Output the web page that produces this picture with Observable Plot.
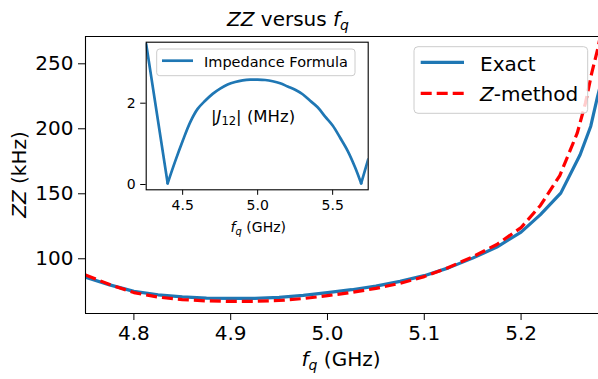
<!DOCTYPE html>
<html><head><meta charset="utf-8">
<script src="https://cdn.jsdelivr.net/npm/d3@7"></script>
<script src="https://cdn.jsdelivr.net/npm/@observablehq/plot@0.6"></script>
<style>
html,body{margin:0;padding:0;background:#fff;overflow:hidden}
#wrap{position:relative;width:598px;height:379px;font-family:"DejaVu Sans",sans-serif}
#wrap svg{position:absolute;}
text{white-space:pre}
</style></head><body><div id="wrap"></div>
<script>
// ---- data ----
const seriesNames = ["Exact", "Z-method"];
const fqExact = [4.75,4.775,4.8,4.825,4.85,4.875,4.9,4.925,4.95,4.975,5.0,5.025,5.05,5.075,5.1,5.125,5.15,5.175,5.2,5.22,5.241,5.261,5.272,5.279,5.285];
const zzExact = [85.9,79.9,74.9,72.3,70.7,69.8,69.5,69.6,70.3,71.8,74.0,76.2,79.0,82.6,87.0,93.0,100.5,109.0,120.5,134.0,150.5,180.0,202.0,224.8,242.0];
const fqZ = [4.75,4.775,4.8,4.825,4.85,4.875,4.9,4.925,4.95,4.975,5.0,5.025,5.05,5.075,5.1,5.125,5.15,5.175,5.2,5.22,5.24,5.258,5.2665,5.273,5.279,5.285];
const zzZ = [87.5,80.2,74.0,70.5,68.6,67.6,67.2,67.3,67.9,69.4,71.6,74.1,77.2,81.1,86.3,93.3,101.5,111.0,124.0,141.0,164.0,196.6,219.7,242.8,260.8,282.0];
const fqInset = [4.257,4.40,4.45,4.50,4.55,4.60,4.65,4.70,4.75,4.80,4.85,4.90,4.95,5.00,5.05,5.10,5.15,5.20,5.25,5.30,5.35,5.40,5.45,5.50,5.55,5.60,5.65,5.69,5.737];
const jInset = [3.45,0.03,0.57,1.07,1.53,1.86,2.06,2.23,2.36,2.46,2.52,2.56,2.58,2.58,2.57,2.54,2.49,2.41,2.33,2.22,2.06,1.90,1.67,1.45,1.15,0.83,0.42,0.03,0.62];
const mainXTicks = [4.8, 4.9, 5.0, 5.1, 5.2];
const mainYTicks = [100, 150, 200, 250];
const insetXTicks = [4.5, 5.0, 5.5];
const insetYTicks = [0, 2];

// ---- build ----
const blue = "#1f77b4", red = "#ff0000";
const xDom = [4.75, 5.28], yDom = [57.9, 271];
const exact = fqExact.map((f, i) => ({f, zz: zzExact[i], s: seriesNames[0]}));
const zm = fqZ.map((f, i) => ({f, zz: zzZ[i], s: seriesNames[1]}));
const ins = fqInset.map((f, i) => ({f, j: jInset[i]}));
const insLeft = ins.filter(d => d.f <= 4.40);
const insArc = ins.filter(d => d.f >= 4.40 && d.f <= 5.69);
const insRight = ins.filter(d => d.f >= 5.69);
const wrap = document.getElementById("wrap");

const main = Plot.plot({
  width: 598, height: 379,
  marginLeft: 85, marginRight: 0, marginTop: 36, marginBottom: 66,
  style: {fontFamily: "DejaVu Sans", fontSize: "20px", color: "black", background: "white", overflow: "visible"},
  x: {domain: xDom, ticks: mainXTicks, tickFormat: d3.format(".1f"), tickSize: 7, tickPadding: 5, label: null},
  y: {domain: yDom, ticks: mainYTicks, tickFormat: d3.format("d"), tickSize: 7, tickPadding: 5, label: null},
  marks: [
    Plot.line(exact, {x: "f", y: "zz", stroke: blue, strokeWidth: 3.2, clip: true, strokeLinejoin: "round"}),
    Plot.line(zm, {x: "f", y: "zz", stroke: red, strokeWidth: 3.2, strokeDasharray: "11,5", strokeLinecap: "butt", clip: true}),
    Plot.ruleX([xDom[0]], {stroke: "black", strokeWidth: 1.1}),
    Plot.ruleY(yDom, {stroke: "black", strokeWidth: 1.1})
  ]
});
main.style.left = "0px"; main.style.top = "0px";
wrap.appendChild(main);

const inset = Plot.plot({
  width: 280, height: 200,
  marginLeft: 45.7, marginRight: 12.3, marginTop: 5.7, marginBottom: 46.7,
  style: {fontFamily: "DejaVu Sans", fontSize: "14px", color: "black", background: "transparent", overflow: "visible"},
  x: {domain: [4.257, 5.737], ticks: insetXTicks, tickFormat: d3.format(".1f"), tickSize: 5.5, tickPadding: 5, label: null},
  y: {domain: [-0.13, 3.5], ticks: insetYTicks, tickFormat: d3.format("d"), tickSize: 5.5, tickPadding: 5, label: null},
  marks: [
    Plot.frame({fill: "white", stroke: "none"}),
    Plot.line(insLeft, {x: "f", y: "j", stroke: blue, strokeWidth: 2.7, clip: true}),
    Plot.line(insArc, {x: "f", y: "j", stroke: blue, strokeWidth: 2.7, clip: true, curve: "catmull-rom"}),
    Plot.line(insRight, {x: "f", y: "j", stroke: blue, strokeWidth: 2.7, clip: true}),
    Plot.frame({stroke: "black", strokeWidth: 1.1})
  ]
});
inset.style.left = "100px"; inset.style.top = "36px";
wrap.appendChild(inset);

// ---- text & legends ----
function richText(svg, x, y, size, parts, anchor, transform) {
  const t = svg.append("text").attr("font-size", size + "px").attr("fill", "black")
    .attr("text-anchor", anchor || "start").attr("font-family", "DejaVu Sans");
  if (transform) t.attr("transform", transform); else t.attr("x", x).attr("y", y);
  for (const p of parts) {
    const ts = t.append("tspan").text(p.t);
    if (p.i) ts.attr("font-style", "italic");
    if (p.s) ts.attr("font-size", p.s + "px");
    if (p.dy) ts.attr("dy", p.dy);
  }
  return t;
}
const M = d3.select(main), I = d3.select(inset);

// title
richText(M, 288, 25.7, 20, [{t: "ZZ", i: 1}, {t: " versus "}, {t: "f", i: 1}, {t: "q", i: 1, s: 14, dy: 4}], "middle");
// axis labels
richText(M, 341, 366, 20, [{t: "f", i: 1}, {t: "q", i: 1, s: 14, dy: 4}, {t: " (GHz)", dy: -4}], "middle");
richText(M, 0, 0, 20, [{t: "ZZ", i: 1}, {t: " (kHz)"}], "middle", "translate(26,174.5) rotate(-90)");

// main legend
M.append("rect").attr("x", 414).attr("y", 46.7).attr("width", 173.7).attr("height", 66.6).attr("rx", 4)
  .attr("fill", "white").attr("fill-opacity", 0.8).attr("stroke", "#cccccc").attr("stroke-width", 1);
M.append("line").attr("x1", 420.7).attr("x2", 464).attr("y1", 62.3).attr("y2", 62.3)
  .attr("stroke", blue).attr("stroke-width", 3.2);
M.append("line").attr("x1", 420.7).attr("x2", 464).attr("y1", 93.3).attr("y2", 93.3)
  .attr("stroke", red).attr("stroke-width", 3.2).attr("stroke-dasharray", "11,5");
richText(M, 480, 70.7, 20, [{t: seriesNames[0]}]);
richText(M, 480, 100.7, 20, [{t: "Z", i: 1}, {t: "-method"}]);

// inset legend
I.append("rect").attr("x", 56.7).attr("y", 13).attr("width", 198.3).attr("height", 26.7).attr("rx", 3)
  .attr("fill", "white").attr("fill-opacity", 0.8).attr("stroke", "#cccccc").attr("stroke-width", 1);
I.append("line").attr("x1", 62).attr("x2", 93).attr("y1", 24.7).attr("y2", 24.7)
  .attr("stroke", blue).attr("stroke-width", 2.7);
richText(I, 104, 31.3, 14.5, [{t: "Impedance Formula"}]);
// inset annotation
richText(I, 111, 86.3, 16.5, [{t: "|"}, {t: "J", i: 1}, {t: "12", s: 11.5, dy: 3}, {t: "|", dy: -3}, {t: " (MHz)"}]);
// inset x label
richText(I, 158.3, 195.7, 14, [{t: "f", i: 1}, {t: "q", i: 1, s: 10, dy: 3}, {t: " (GHz)", dy: -3}], "middle");
</script></body></html>
